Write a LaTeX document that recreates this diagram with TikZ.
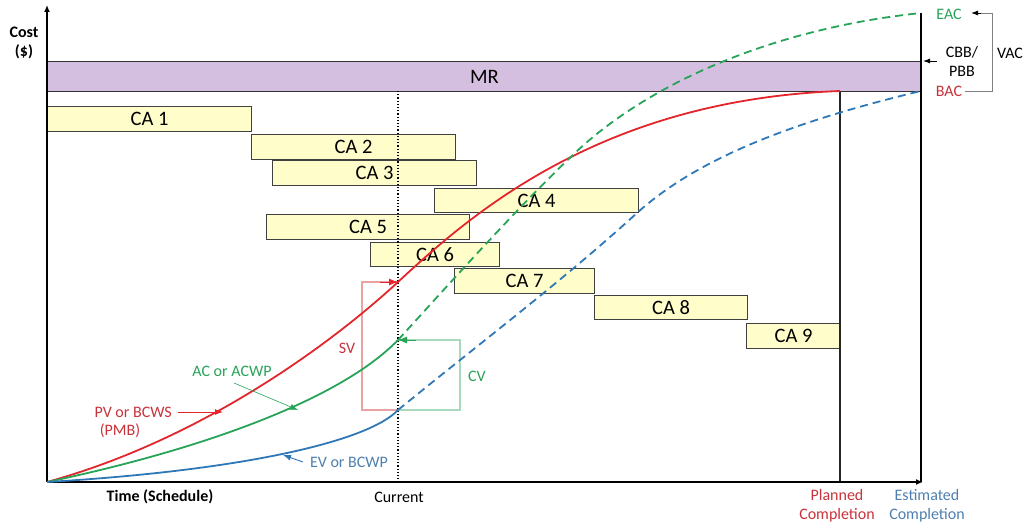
\documentclass[tikz,border=0pt]{standalone}
\usepackage{fontspec}
\setmainfont{Carlito}
\usetikzlibrary{arrows.meta}
\definecolor{pvred}{HTML}{E3262B}
\definecolor{txtred}{HTML}{C8323A}
\definecolor{acgreen}{HTML}{27A458}
\definecolor{evblue}{HTML}{2F78B8}
\definecolor{txtblue}{HTML}{4E7FAE}
\definecolor{mrfill}{HTML}{D5BFE1}
\definecolor{cafill}{HTML}{FFFDCA}
\definecolor{svline}{HTML}{E9A3A3}
\definecolor{cvline}{HTML}{A9D9BC}
\tikzset{
  lbl/.style={font=\fontsize{16}{19}\selectfont, inner sep=0pt, align=center},
  cabox/.style={draw=black!75, line width=1.1pt, fill=cafill, inner sep=0pt,
    anchor=north west, minimum height=25pt, font=\fontsize{20.5}{23}\selectfont},
  axis/.style={line width=1.8pt, -{Latex[length=7pt,width=6pt]}},
  curve/.style={line width=1.8pt},
  dashcurve/.style={line width=1.8pt, dash pattern=on 8pt off 5pt},
  pointer/.style={line width=0.9pt, -{Latex[length=8pt,width=6pt]}}
}
\begin{document}
\begin{tikzpicture}[x=1pt,y=-1pt]
\useasboundingbox (0,0) rectangle (1026,524);

% key points
\coordinate (O) at (47,482);
\coordinate (ytop) at (47,5);
\coordinate (xend) at (923,482);
\coordinate (pvnow) at (398,282);
\coordinate (acnow) at (398,340);
\coordinate (evnow) at (398,410);
\coordinate (bac) at (840,91);
\coordinate (eac) at (921,13);
\coordinate (evend) at (921,91);

% management reserve
\node[draw=black!80, line width=1pt, fill=mrfill, anchor=north west, inner sep=0pt,
  minimum width=874pt, minimum height=30pt, font=\fontsize{20.5}{23}\selectfont] (mr) at (47,61) {MR};

% control accounts
\node[cabox, minimum width=204pt] (ca1) at (47,106) {CA 1};
\node[cabox, minimum width=204pt] (ca2) at (251,134) {CA 2};
\node[cabox, minimum width=204pt] (ca3) at (272,160) {CA 3};
\node[cabox, minimum width=204pt, minimum height=24pt] (ca4) at (434,188) {CA 4};
\node[cabox, minimum width=203pt] (ca5) at (266,214) {CA 5};
\node[cabox, minimum width=129pt, minimum height=24pt] (ca6) at (370,242) {CA 6};
\node[cabox, minimum width=140pt] (ca7) at (454,268) {CA 7};
\node[cabox, minimum width=153pt, minimum height=24pt] (ca8) at (594,295) {CA 8};
\node[cabox, minimum width=94pt] (ca9) at (746,323) {CA 9};

% time lines
\draw[line width=1.2pt, dotted] (398,91) -- (398,482);
\draw[line width=1.5pt, black!85] (bac) -- (840,482);
\draw[line width=1.8pt] (eac) -- (921,482);

% axes
\draw[axis] (O) -- (ytop);
\draw[axis] (O) -- (xend);

% SV and CV brackets
\draw[svline, line width=1.2pt] (evnow) -- (362,410) -- (362,282) -- (pvnow);
\draw[pvred, line width=0.8pt, -{Latex[length=9pt,width=7pt]}] (380,282) -- (pvnow);
\draw[cvline, line width=1.2pt] (evnow) -- (460,410) -- (460,340) -- (acnow);
\draw[acgreen, line width=0.8pt, -{Latex[length=9pt,width=7pt]}] (416,340) -- (acnow);

% PV (planned value)
\draw[pvred, curve] (O) .. controls (200,440) and (330,345) .. (pvnow)
  .. controls (470,215) and (600,100) .. (bac);
% AC (actual cost) and its forecast
\draw[acgreen, curve] (O) .. controls (200,450) and (340,400) .. (acnow);
\draw[acgreen, dashcurve] (acnow) .. controls (460,272) and (520,205) .. (575,153)
  .. controls (640,91) and (760,30) .. (eac);
% EV (earned value) and its forecast
\draw[evblue, curve] (O) .. controls (250,470) and (370,440) .. (evnow);
\draw[evblue, dashcurve] (evnow) .. controls (480,343) and (560,283) .. (637,213)
  .. controls (700,156) and (800,120) .. (evend);

% curve labels
\node[lbl, text=txtred, anchor=east] (pvlbl) at (172,412) {PV or BCWS};
\node[lbl, text=txtred] (pmb) at (120,431) {(PMB)};
\coordinate (pvtip) at (223,412);
\draw[pvred, pointer] (pvlbl.east) ++(6,0) coordinate (pvs) (pvs) -- (pvtip);

\node[lbl, text=acgreen] (aclbl) at (232,371) {AC or ACWP};
\coordinate (actip) at (298,410);
\draw[acgreen, pointer, line width=0.6pt] (234,383) -- (actip);

\node[lbl, text=txtblue] (evlbl) at (349,462) {EV or BCWP};
\coordinate (evtip) at (283,455);
\draw[evblue, pointer] (303,462) -- (evtip);

\node[lbl, text=txtred] (sv) at (347,348) {SV};
\node[lbl, text=acgreen] (cv) at (477,376) {CV};

% axis labels
\node[lbl, font=\fontsize{16}{19}\selectfont\bfseries] (cost) at (24,43) {Cost\\(\$)};
\node[lbl, font=\fontsize{16}{19}\selectfont\bfseries] (time) at (160,497) {Time (Schedule)};
\node[lbl] (cur) at (399,497) {Current};
\node[lbl, text=txtred, font=\fontsize{16}{19}\selectfont] (planned) at (837,506) {Planned\\Completion};
\node[lbl, text=txtblue, font=\fontsize{16}{19}\selectfont] (est) at (927,506) {Estimated\\Completion};

% budget labels on the right
\node[lbl, text=acgreen] (eaclbl) at (949,14) {EAC};
\node[lbl, text=txtred] (baclbl) at (949,91) {BAC};
\node[lbl, font=\fontsize{16}{19}\selectfont] (cbb) at (962,61) {CBB/\\PBB};
\node[lbl] (vac) at (1010,53) {VAC};
\draw[line width=0.9pt, -{Latex[length=7pt,width=5pt]}] (937,61) -- (923,61);
\draw[black!50, line width=0.9pt] (baclbl.east) ++(3,0) -- (992,91) -- (992,13) -- (980,13);
\draw[line width=0.9pt, -{Latex[length=7pt,width=5pt]}] (981,13) -- (971,13);
\end{tikzpicture}
\end{document}
